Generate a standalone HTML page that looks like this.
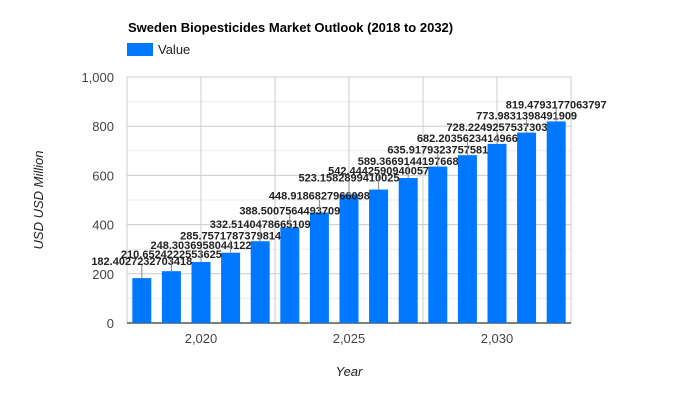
<!DOCTYPE html>
<html><head><meta charset="utf-8"><style>
body{margin:0;background:#fff;}
svg{font-family:"Liberation Sans",Arial,sans-serif;}
</style></head><body>
<svg id="chart" width="700" height="400" viewBox="0 0 700 400" xmlns="http://www.w3.org/2000/svg">
<rect width="700" height="400" fill="#fff"/>
<text x="128" y="32" font-size="13" font-weight="bold" fill="#000">Sweden Biopesticides Market Outlook (2018 to 2032)</text>
<rect x="127" y="43" width="26" height="13" fill="#0077ff"/>
<text x="158" y="54" font-size="13" fill="#222">Value</text>
<g id="grid"></g>
<g id="bars"></g>
<g id="labels"></g>
<text transform="translate(43,200) rotate(-90)" text-anchor="middle" font-size="13" font-style="italic" fill="#222">USD USD Million</text>
<text x="349" y="376" text-anchor="middle" font-size="13" font-style="italic" fill="#222">Year</text>
</svg>
<script>
const years=[2018,2019,2020,2021,2022,2023,2024,2025,2026,2027,2028,2029,2030,2031,2032];
const values=[182.40272327034188,210.6524222553625,248.30369580441222,285.75717873798146,332.51404786651096,388.50075644937095,448.91868279660984,523.1582899410025,542.4442590940057,589.3669144197668,635.9179323757581,682.2035623414966,728.2249257537303,773.9831398491909,819.4793177063797];
const yTicks=[0,200,400,600,800,1000];
const yTickLabels=["0","200","400","600","800","1,000"];
const xTicks=[2020,2025,2030];
const xTickLabels=["2,020","2,025","2,030"];
const NS="http://www.w3.org/2000/svg";
const L=127,R=571,T=77,B=323,x0=2017.5,x1=2032.5;
const xs=v=>L+(v-x0)/(x1-x0)*(R-L);
const ys=v=>B-(v/1000)*(B-T);
function mk(tag,attrs,parent,txt){const e=document.createElementNS(NS,tag);for(const k in attrs)e.setAttribute(k,attrs[k]);if(txt!==undefined)e.textContent=txt;document.getElementById(parent).appendChild(e);return e;}
// minor horizontal grid
for(let v=100;v<1000;v+=200){const e=mk('line',{x1:L,x2:R,y1:ys(v),y2:ys(v),stroke:'#ebebeb'},'grid');

}
yTicks.forEach((v,i)=>{if(v>0){const e=mk('line',{x1:L,x2:R,y1:ys(v),y2:ys(v),stroke:'#ccc'},'grid');

}
const t=mk('text',{x:L-13,y:ys(v)+5,'text-anchor':'end','font-size':'13',fill:'#444'},'grid',yTickLabels[i]);

});
for(let v=x0;v<=x1+0.01;v+=2.5){const e=mk('line',{x1:xs(v),x2:xs(v),y1:T,y2:B,stroke:'#ccc'},'grid');

}
xTicks.forEach((v,i)=>{const t=mk('text',{x:xs(v),y:B+20,'text-anchor':'middle','font-size':'13',fill:'#444'},'grid',xTickLabels[i]);

});
const ax=mk('line',{x1:L,x2:R,y1:B,y2:B,stroke:'#333','stroke-width':1.3},'grid');


let prev=1e9;
years.forEach((yr,i)=>{const cx=xs(yr),top=ys(values[i]);
const b=mk('rect',{x:cx-9.5,y:top,width:19,height:B-top,fill:'#0077ff'},'bars');


let ly=Math.min(top-17,prev-7);prev=ly;
const ln=mk('line',{x1:cx,x2:cx,y1:ly+4,y2:top,stroke:'#888'},'labels');


const t=mk('text',{x:cx,y:ly+4,'text-anchor':'middle','font-size':'11','font-weight':'bold',fill:'#222'},'labels',String(values[i]).slice(0,17));

});
</script>
</body></html>
